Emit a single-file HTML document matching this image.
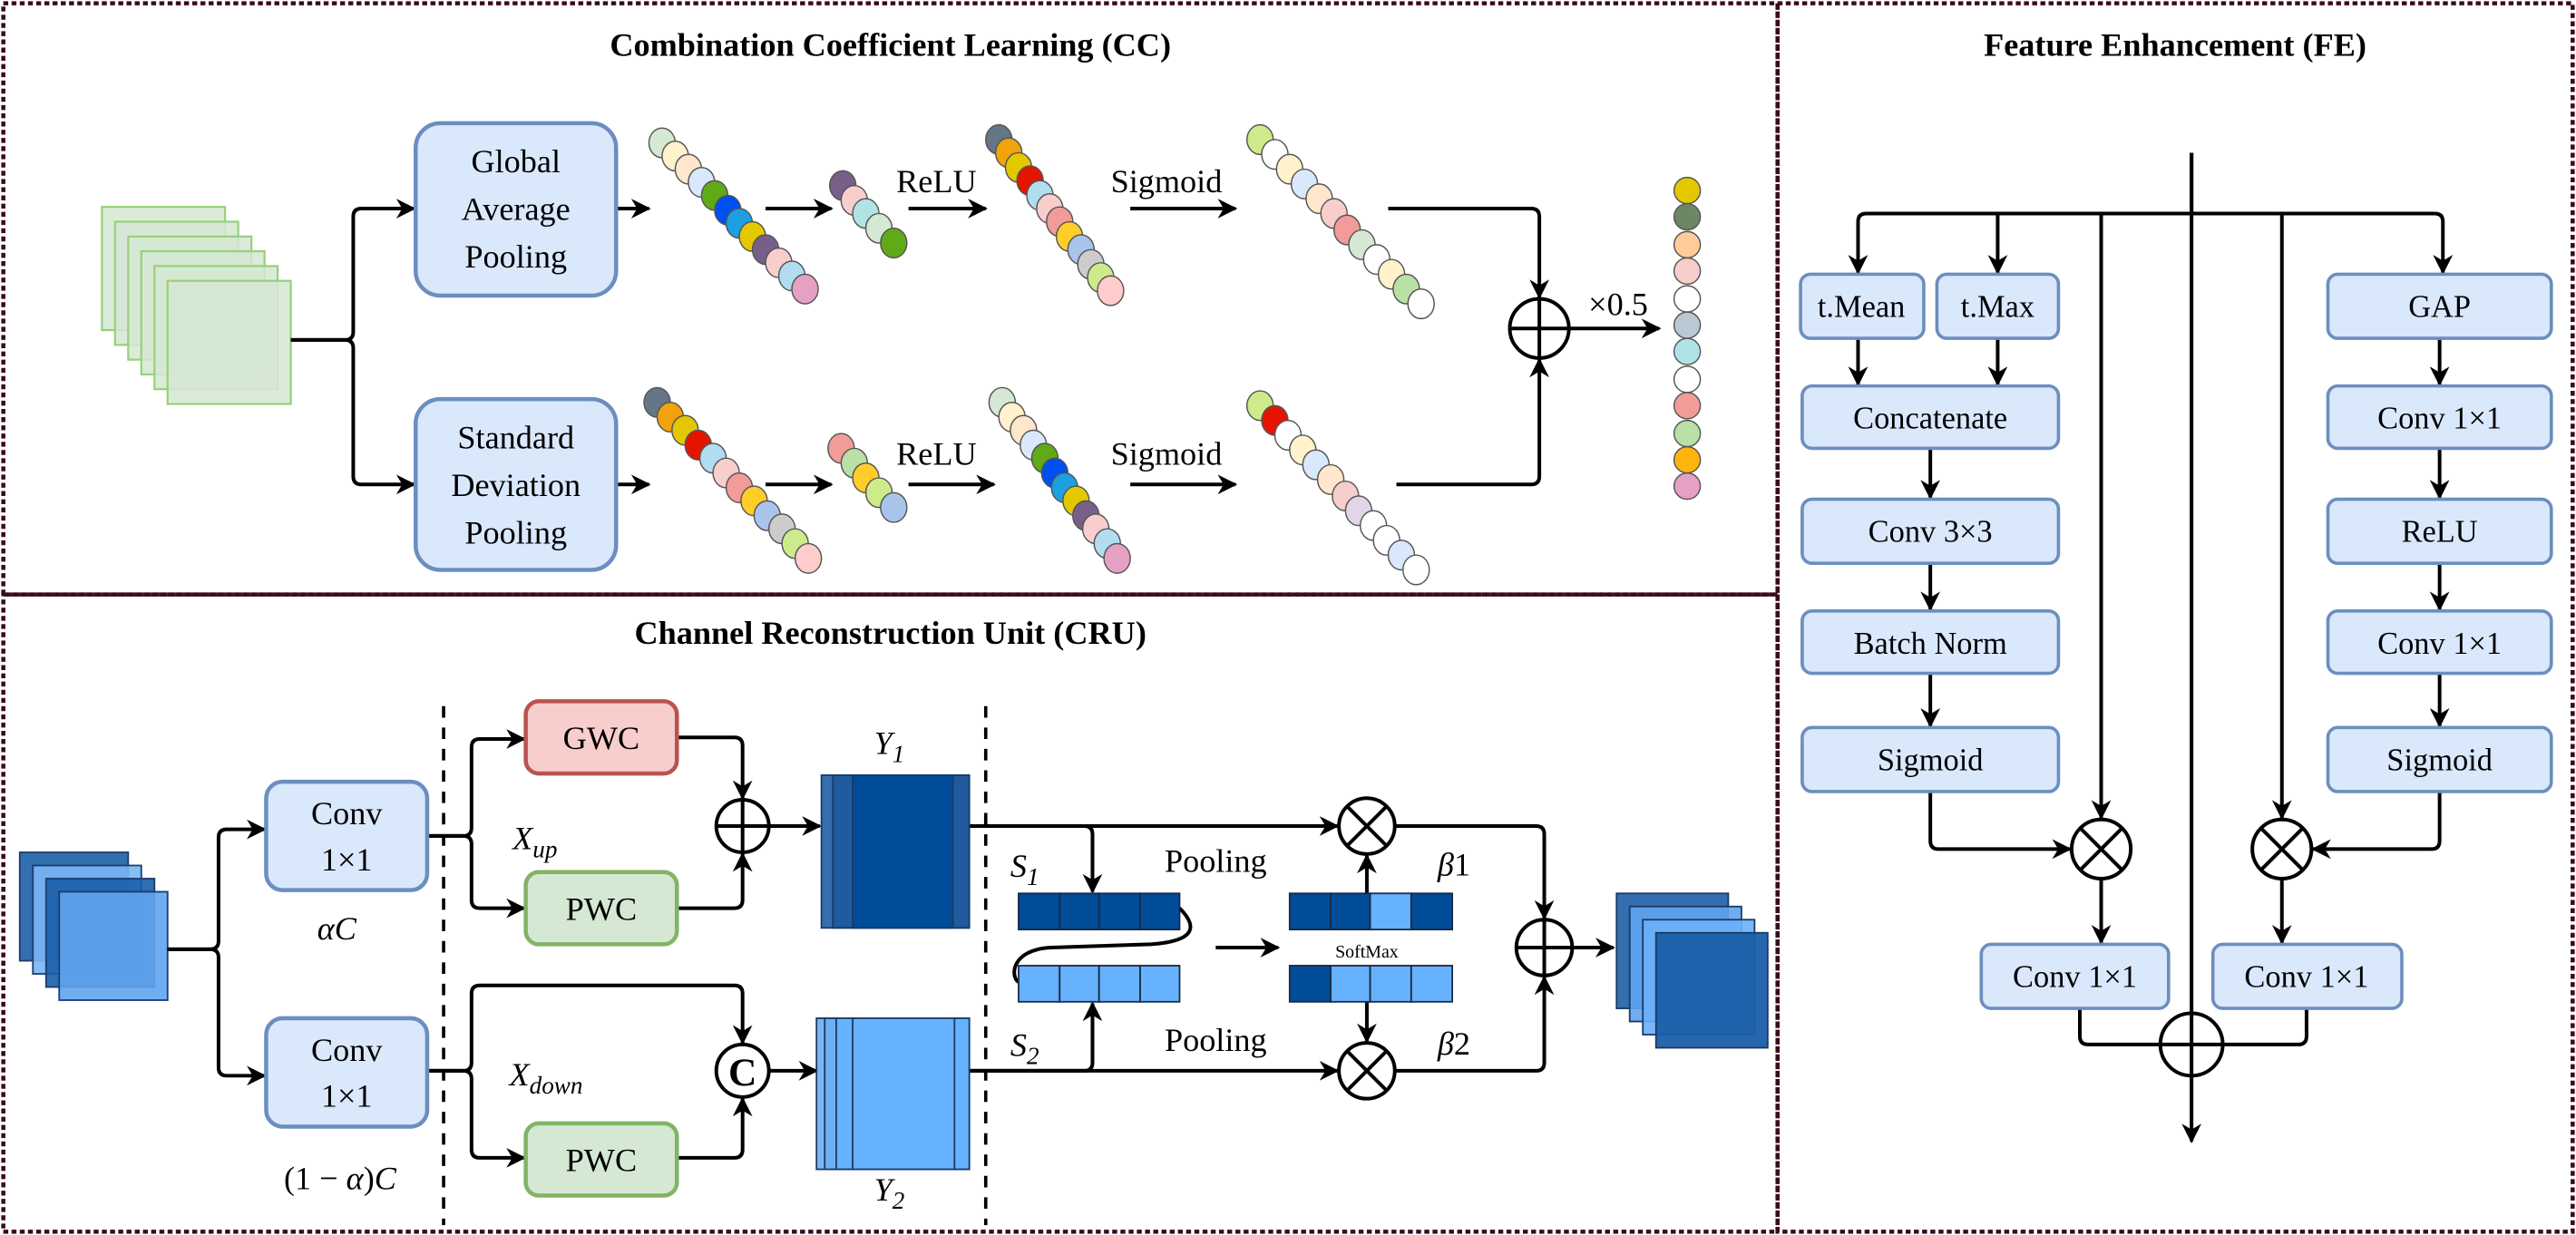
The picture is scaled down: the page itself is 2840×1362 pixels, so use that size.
<!DOCTYPE html>
<html><head><meta charset="utf-8"><style>
html,body{margin:0;padding:0;background:#fff;}
svg{display:block;font-family:"Liberation Serif","DejaVu Serif",serif;}
svg text{font-family:"Liberation Serif","DejaVu Serif",serif;fill:#000;}
</style></head><body>
<svg width="2840" height="1362" viewBox="0 0 1568 752" xmlns="http://www.w3.org/2000/svg" font-family="Liberation Serif, serif">
<defs>
<marker id="a" viewBox="0 0 10 10" refX="9" refY="5" markerWidth="12" markerHeight="12" markerUnits="userSpaceOnUse" orient="auto"><path d="M0,0 L10,5 L0,10 L3,5 z" fill="#000"/></marker>
</defs>
<g fill="none" stroke="#3a0a20" stroke-width="2.5" stroke-dasharray="3,2">
<rect x="2" y="2" width="1080" height="360"/>
<rect x="2" y="362" width="1080" height="388"/>
<rect x="1082" y="2" width="484" height="748"/>
</g>
<g font-weight="bold" font-size="20" text-anchor="middle">
<text x="542" y="34">Combination Coefficient Learning (CC)</text>
<text x="542" y="392">Channel Reconstruction Unit (CRU)</text>
<text x="1324" y="34">Feature Enhancement (FE)</text>
</g>
<!-- CC -->
<g fill="#d5e8d4" fill-opacity="0.85" stroke="#97d077" stroke-width="1.2">
<rect x="62" y="126" width="75" height="75"/><rect x="70" y="135" width="75" height="75"/><rect x="78" y="144" width="75" height="75"/><rect x="86" y="153" width="75" height="75"/><rect x="94" y="162" width="75" height="75"/><rect x="102" y="171" width="75" height="75"/>
</g>
<g fill="none" stroke="#000" stroke-width="2.2" marker-end="url(#a)">
<path d="M177,207 H210 Q215,207 215,202 V132 Q215,127 220,127 H252"/>
<path d="M177,207 H210 Q215,207 215,212 V290 Q215,295 220,295 H252"/>
<path d="M376,127 H395"/><path d="M466,127 H506"/><path d="M553,127 H600"/><path d="M688,127 H752"/>
<path d="M376,295 H395"/><path d="M466,295 H506"/><path d="M553,295 H605"/><path d="M688,295 H752"/>
<path d="M845,127 H932 Q937,127 937,132 V181"/>
<path d="M850,295 H932 Q937,295 937,290 V219"/>
<path d="M955,200 H1010"/>
</g>
<g fill="#dae8fc" stroke="#6c8ebf" stroke-width="2.5">
<rect x="253" y="75" width="122" height="105" rx="15"/>
<rect x="253" y="243" width="122" height="104" rx="15"/>
</g>
<g font-size="20" text-anchor="middle">
<text x="314" y="105">Global</text><text x="314" y="134">Average</text><text x="314" y="163">Pooling</text>
<text x="314" y="273">Standard</text><text x="314" y="302">Deviation</text><text x="314" y="331">Pooling</text>
<text x="570" y="117">ReLU</text><text x="570" y="283">ReLU</text>
<text x="710" y="117">Sigmoid</text><text x="710" y="283">Sigmoid</text>
<text x="985" y="192">×0.5</text>
</g>
<g fill="none" stroke="#000" stroke-width="2.2"><circle cx="937" cy="200" r="18"/><path d="M919,200 H955 M937,182 V218"/></g>
<g stroke="#555" stroke-width="0.8">
<ellipse cx="403" cy="87" rx="8" ry="9" fill="#d5e8d4"/><ellipse cx="411" cy="95" rx="8" ry="9" fill="#fff2cc"/><ellipse cx="419" cy="103" rx="8" ry="9" fill="#ffe6cc"/><ellipse cx="427" cy="111" rx="8" ry="9" fill="#dae8fc"/><ellipse cx="435" cy="119" rx="8" ry="9" fill="#60a917"/><ellipse cx="443" cy="128" rx="8" ry="9" fill="#0050ef"/><ellipse cx="450" cy="136" rx="8" ry="9" fill="#1ba1e2"/><ellipse cx="458" cy="144" rx="8" ry="9" fill="#e3c800"/><ellipse cx="466" cy="152" rx="8" ry="9" fill="#76608a"/><ellipse cx="474" cy="160" rx="8" ry="9" fill="#f8cecc"/><ellipse cx="482" cy="168" rx="8" ry="9" fill="#b1ddf0"/><ellipse cx="490" cy="176" rx="8" ry="9" fill="#e6a0c4"/>
<ellipse cx="513" cy="113" rx="8" ry="9" fill="#76608a"/><ellipse cx="520" cy="122" rx="8" ry="9" fill="#f8cecc"/><ellipse cx="527" cy="130" rx="8" ry="9" fill="#b0e3e6"/><ellipse cx="535" cy="139" rx="8" ry="9" fill="#d5e8d4"/><ellipse cx="544" cy="148" rx="8" ry="9" fill="#60a917"/>
<ellipse cx="608" cy="85" rx="8" ry="9" fill="#647687"/><ellipse cx="614" cy="93" rx="8" ry="9" fill="#f0a30a"/><ellipse cx="620" cy="102" rx="8" ry="9" fill="#e3c800"/><ellipse cx="627" cy="110" rx="8" ry="9" fill="#e51400"/><ellipse cx="633" cy="119" rx="8" ry="9" fill="#b1ddf0"/><ellipse cx="639" cy="127" rx="8" ry="9" fill="#f8cecc"/><ellipse cx="645" cy="135" rx="8" ry="9" fill="#f19c99"/><ellipse cx="651" cy="144" rx="8" ry="9" fill="#ffcd28"/><ellipse cx="658" cy="152" rx="8" ry="9" fill="#a9c4eb"/><ellipse cx="664" cy="161" rx="8" ry="9" fill="#cccccc"/><ellipse cx="670" cy="169" rx="8" ry="9" fill="#cdeb8b"/><ellipse cx="676" cy="177" rx="8" ry="9" fill="#ffcccc"/>
<ellipse cx="767" cy="85" rx="8" ry="9" fill="#cdeb8b"/><ellipse cx="776" cy="94" rx="8" ry="9" fill="#fff"/><ellipse cx="785" cy="103" rx="8" ry="9" fill="#fff2cc"/><ellipse cx="794" cy="112" rx="8" ry="9" fill="#dae8fc"/><ellipse cx="803" cy="121" rx="8" ry="9" fill="#ffe6cc"/><ellipse cx="812" cy="130" rx="8" ry="9" fill="#f8cecc"/><ellipse cx="820" cy="140" rx="8" ry="9" fill="#f19c99"/><ellipse cx="829" cy="149" rx="8" ry="9" fill="#d5e8d4"/><ellipse cx="838" cy="158" rx="8" ry="9" fill="#fff"/><ellipse cx="847" cy="167" rx="8" ry="9" fill="#fff2cc"/><ellipse cx="856" cy="176" rx="8" ry="9" fill="#b9e0a5"/><ellipse cx="865" cy="185" rx="8" ry="9" fill="#fff"/>
<ellipse cx="400" cy="245" rx="8" ry="9" fill="#647687"/><ellipse cx="408" cy="254" rx="8" ry="9" fill="#f0a30a"/><ellipse cx="417" cy="262" rx="8" ry="9" fill="#e3c800"/><ellipse cx="425" cy="271" rx="8" ry="9" fill="#e51400"/><ellipse cx="434" cy="279" rx="8" ry="9" fill="#b1ddf0"/><ellipse cx="442" cy="288" rx="8" ry="9" fill="#f8cecc"/><ellipse cx="450" cy="297" rx="8" ry="9" fill="#f19c99"/><ellipse cx="459" cy="305" rx="8" ry="9" fill="#ffcd28"/><ellipse cx="467" cy="314" rx="8" ry="9" fill="#a9c4eb"/><ellipse cx="476" cy="322" rx="8" ry="9" fill="#cccccc"/><ellipse cx="484" cy="331" rx="8" ry="9" fill="#cdeb8b"/><ellipse cx="492" cy="340" rx="8" ry="9" fill="#ffcccc"/>
<ellipse cx="512" cy="273" rx="8" ry="9" fill="#f19c99"/><ellipse cx="520" cy="282" rx="8" ry="9" fill="#b9e0a5"/><ellipse cx="527" cy="291" rx="8" ry="9" fill="#ffcd28"/><ellipse cx="535" cy="300" rx="8" ry="9" fill="#cdeb8b"/><ellipse cx="544" cy="309" rx="8" ry="9" fill="#a9c4eb"/>
<ellipse cx="610" cy="245" rx="8" ry="9" fill="#d5e8d4"/><ellipse cx="616" cy="254" rx="8" ry="9" fill="#fff2cc"/><ellipse cx="623" cy="262" rx="8" ry="9" fill="#ffe6cc"/><ellipse cx="629" cy="271" rx="8" ry="9" fill="#dae8fc"/><ellipse cx="636" cy="279" rx="8" ry="9" fill="#60a917"/><ellipse cx="642" cy="288" rx="8" ry="9" fill="#0050ef"/><ellipse cx="648" cy="297" rx="8" ry="9" fill="#1ba1e2"/><ellipse cx="655" cy="305" rx="8" ry="9" fill="#e3c800"/><ellipse cx="661" cy="314" rx="8" ry="9" fill="#76608a"/><ellipse cx="667" cy="322" rx="8" ry="9" fill="#f8cecc"/><ellipse cx="674" cy="331" rx="8" ry="9" fill="#b1ddf0"/><ellipse cx="680" cy="340" rx="8" ry="9" fill="#e6a0c4"/>
<ellipse cx="767" cy="247" rx="8" ry="9" fill="#cdeb8b"/><ellipse cx="776" cy="256" rx="8" ry="9" fill="#e51400"/><ellipse cx="784" cy="265" rx="8" ry="9" fill="#fff"/><ellipse cx="793" cy="274" rx="8" ry="9" fill="#fff2cc"/><ellipse cx="801" cy="283" rx="8" ry="9" fill="#dae8fc"/><ellipse cx="810" cy="292" rx="8" ry="9" fill="#ffe6cc"/><ellipse cx="819" cy="302" rx="8" ry="9" fill="#f8cecc"/><ellipse cx="827" cy="311" rx="8" ry="9" fill="#e1d5e7"/><ellipse cx="836" cy="320" rx="8" ry="9" fill="#fff"/><ellipse cx="844" cy="329" rx="8" ry="9" fill="#fff"/><ellipse cx="853" cy="338" rx="8" ry="9" fill="#dae8fc"/><ellipse cx="862" cy="347" rx="8" ry="9" fill="#fff"/>
<ellipse cx="1027" cy="116" rx="8" ry="8" fill="#e3c800"/><ellipse cx="1027" cy="132" rx="8" ry="8" fill="#6d8764"/><ellipse cx="1027" cy="149" rx="8" ry="8" fill="#ffcc99"/><ellipse cx="1027" cy="165" rx="8" ry="8" fill="#f8cecc"/><ellipse cx="1027" cy="182" rx="8" ry="8" fill="#fff"/><ellipse cx="1027" cy="198" rx="8" ry="8" fill="#bac8d3"/><ellipse cx="1027" cy="214" rx="8" ry="8" fill="#b0e3e6"/><ellipse cx="1027" cy="231" rx="8" ry="8" fill="#fff"/><ellipse cx="1027" cy="247" rx="8" ry="8" fill="#f19c99"/><ellipse cx="1027" cy="264" rx="8" ry="8" fill="#b9e0a5"/><ellipse cx="1027" cy="280" rx="8" ry="8" fill="#ffb30f"/><ellipse cx="1027" cy="296" rx="8" ry="8" fill="#e6a0c4"/>
</g>
<!-- CRU -->
<g stroke="#1a3e6e" stroke-width="1">
<rect x="12" y="519" width="66" height="66" fill="#336fae"/><rect x="20" y="527" width="66" height="66" fill="#7ab6f5" fill-opacity="0.9"/><rect x="28" y="535" width="66" height="66" fill="#1a5ea8" fill-opacity="0.9"/><rect x="36" y="543" width="66" height="66" fill="#5fa4ee" fill-opacity="0.9"/>
</g>
<g fill="none" stroke="#000" stroke-width="2" stroke-dasharray="7,6"><path d="M270,430 V746"/><path d="M600,430 V746"/></g>
<g fill="none" stroke="#000" stroke-width="2.2" marker-end="url(#a)">
<path d="M102,578 H128 Q133,578 133,573 V510 Q133,505 138,505 H161"/>
<path d="M102,578 H128 Q133,578 133,583 V650 Q133,655 138,655 H161"/>
<path d="M261,509 H282 Q287,509 287,504 V455 Q287,450 292,450 H319"/>
<path d="M261,509 H282 Q287,509 287,514 V548 Q287,553 292,553 H319"/>
<path d="M413,449 H447 Q452,449 452,454 V486"/>
<path d="M413,553 H447 Q452,553 452,548 V520"/>
<path d="M469,503 H499"/>
<path d="M261,652 H282 Q287,652 287,647 V605 Q287,600 292,600 H447 Q452,600 452,605 V635"/>
<path d="M261,652 H282 Q287,652 287,657 V700 Q287,705 292,705 H319"/>
<path d="M413,705 H447 Q452,705 452,700 V669"/>
<path d="M469,652 H497"/>
<path d="M590,503 H814"/>
<path d="M590,652 H814"/>
<path d="M590,503 H660 Q665,503 665,508 V543"/>
<path d="M590,652 H660 Q665,652 665,647 V611"/>
<path d="M740,577 H778"/>
<path d="M832,544 V521"/>
<path d="M832,610 V634"/>
<path d="M849,503 H935 Q940,503 940,508 V559"/>
<path d="M849,652 H935 Q940,652 940,647 V595"/>
<path d="M958,577 H982"/>
</g>
<g fill="#dae8fc" stroke="#6c8ebf" stroke-width="2.5">
<rect x="162" y="476" width="98" height="66" rx="10"/><rect x="162" y="620" width="98" height="66" rx="10"/>
</g>
<rect x="320" y="427" width="92" height="44" rx="8" fill="#f8cecc" stroke="#b85450" stroke-width="2.5"/>
<rect x="320" y="531" width="92" height="44" rx="8" fill="#d5e8d4" stroke="#82b366" stroke-width="2.5"/>
<rect x="320" y="684" width="92" height="44" rx="8" fill="#d5e8d4" stroke="#82b366" stroke-width="2.5"/>
<g font-size="20" text-anchor="middle">
<text x="211" y="502">Conv</text><text x="211" y="530">1×1</text>
<text x="211" y="646">Conv</text><text x="211" y="674">1×1</text>
<text x="366" y="456">GWC</text><text x="366" y="560">PWC</text><text x="366" y="713">PWC</text>
<text x="205" y="572" font-style="italic">αC</text>
<text x="207" y="724">(1 − <tspan font-style="italic">α</tspan>)<tspan font-style="italic">C</tspan></text>
<text x="740" y="531">Pooling</text><text x="740" y="640">Pooling</text>
<text x="885" y="533" font-style="italic">β<tspan font-style="normal">1</tspan></text>
<text x="885" y="642" font-style="italic">β<tspan font-style="normal">2</tspan></text>
</g>
<g font-size="20" font-style="italic">
<text x="312" y="517">X<tspan font-size="15" dy="5">up</tspan></text>
<text x="310" y="661">X<tspan font-size="15" dy="5">down</tspan></text>
<text x="532" y="459">Y<tspan font-size="15" dy="5">1</tspan></text>
<text x="532" y="731">Y<tspan font-size="15" dy="5">2</tspan></text>
<text x="615" y="534">S<tspan font-size="15" dy="5">1</tspan></text>
<text x="615" y="643">S<tspan font-size="15" dy="5">2</tspan></text>
</g>
<text x="832" y="583" font-size="11" text-anchor="middle">SoftMax</text>
<g fill="none" stroke="#000" stroke-width="2.2">
<circle cx="452" cy="503" r="16"/><path d="M436,503 H468 M452,487 V519"/>
<circle cx="452" cy="652" r="16"/>
<circle cx="832" cy="503" r="17"/><path d="M820,491 L844,515 M844,491 L820,515"/>
<circle cx="832" cy="652" r="17"/><path d="M820,640 L844,664 M844,640 L820,664"/>
<circle cx="940" cy="577" r="17"/><path d="M923,577 H957 M940,560 V594"/>
<path d="M718,553 C728,563 730,573 700,575 L640,577 C615,578 615,595 620,598"/>
</g>
<text x="452" y="661" font-size="24" font-weight="bold" text-anchor="middle">C</text>
<g stroke="#1a3a66" stroke-width="1">
<rect x="500" y="472" width="90" height="93" fill="#336fae"/><rect x="507" y="472" width="83" height="93" fill="#1f5b9e"/><rect x="519" y="472" width="61" height="93" fill="#004c99"/>
<rect x="497" y="620" width="93" height="92" fill="#7ab6f5"/><rect x="502" y="620" width="88" height="92" fill="#6fb0f5"/><rect x="509" y="620" width="81" height="92" fill="#66b2ff"/><rect x="519" y="620" width="62" height="92" fill="#66b2ff"/>
</g>
<g stroke="#1a2a44" stroke-width="1">
<rect x="620" y="544" width="25" height="22" fill="#004c99"/><rect x="645" y="544" width="24" height="22" fill="#004c99"/><rect x="669" y="544" width="25" height="22" fill="#004c99"/><rect x="694" y="544" width="24" height="22" fill="#004c99"/>
<rect x="620" y="588" width="25" height="22" fill="#66b2ff"/><rect x="645" y="588" width="24" height="22" fill="#66b2ff"/><rect x="669" y="588" width="25" height="22" fill="#66b2ff"/><rect x="694" y="588" width="24" height="22" fill="#66b2ff"/>
<rect x="785" y="544" width="25" height="22" fill="#004c99"/><rect x="810" y="544" width="24" height="22" fill="#004c99"/><rect x="834" y="544" width="25" height="22" fill="#66b2ff"/><rect x="859" y="544" width="25" height="22" fill="#004c99"/>
<rect x="785" y="588" width="25" height="22" fill="#004c99"/><rect x="810" y="588" width="24" height="22" fill="#66b2ff"/><rect x="834" y="588" width="25" height="22" fill="#66b2ff"/><rect x="859" y="588" width="25" height="22" fill="#66b2ff"/>
</g>
<g stroke="#1a3a66" stroke-width="1">
<rect x="984" y="544" width="68" height="70" fill="#336fae"/><rect x="992" y="552" width="68" height="70" fill="#5fa4ee" fill-opacity="0.9"/><rect x="1000" y="560" width="68" height="70" fill="#6ab0f8" fill-opacity="0.9"/><rect x="1008" y="568" width="68" height="70" fill="#1a5ea8" fill-opacity="0.95"/>
</g>
<!-- FE -->
<g fill="none" stroke="#000" stroke-width="2.2">
<path d="M1334,93 V130"/>
<path d="M1136,130 H1482"/>
<path d="M1175,482 V512 Q1175,517 1180,517 H1260" marker-end="url(#a)"/>
<path d="M1485,482 V512 Q1485,517 1480,517 H1408" marker-end="url(#a)"/>
<path d="M1266,614 V631 Q1266,636 1271,636 H1314"/>
<path d="M1404,614 V631 Q1404,636 1399,636 H1354"/>
</g>
<g fill="none" stroke="#000" stroke-width="2.2" marker-end="url(#a)">
<path d="M1334,93 V695"/>
<path d="M1136,130 Q1131,130 1131,135 V166"/>
<path d="M1216,130 V166"/>
<path d="M1279,130 V498"/>
<path d="M1389,130 V498"/>
<path d="M1482,130 Q1487,130 1487,135 V166"/>
<path d="M1131,206 V234"/><path d="M1216,206 V234"/>
<path d="M1175,273 V303"/><path d="M1175,343 V371"/><path d="M1175,410 V442"/>
<path d="M1485,206 V234"/><path d="M1485,273 V303"/><path d="M1485,343 V371"/><path d="M1485,410 V442"/>
<path d="M1279,535 V574"/><path d="M1389,535 V574"/>
</g>
<g fill="#dae8fc" stroke="#6c8ebf" stroke-width="2">
<rect x="1096" y="167" width="75" height="39" rx="6"/><rect x="1179" y="167" width="74" height="39" rx="6"/>
<rect x="1097" y="235" width="156" height="38" rx="6"/><rect x="1097" y="304" width="156" height="39" rx="6"/>
<rect x="1097" y="372" width="156" height="38" rx="6"/><rect x="1097" y="443" width="156" height="39" rx="6"/>
<rect x="1417" y="167" width="136" height="39" rx="6"/><rect x="1417" y="235" width="136" height="38" rx="6"/>
<rect x="1417" y="304" width="136" height="39" rx="6"/><rect x="1417" y="372" width="136" height="38" rx="6"/>
<rect x="1417" y="443" width="136" height="39" rx="6"/>
<rect x="1206" y="575" width="114" height="39" rx="6"/><rect x="1347" y="575" width="115" height="39" rx="6"/>
</g>
<g font-size="19" text-anchor="middle">
<text x="1133" y="193">t.Mean</text><text x="1216" y="193">t.Max</text>
<text x="1175" y="261">Concatenate</text><text x="1175" y="330">Conv 3×3</text>
<text x="1175" y="398">Batch Norm</text><text x="1175" y="469">Sigmoid</text>
<text x="1485" y="193">GAP</text><text x="1485" y="261">Conv 1×1</text>
<text x="1485" y="330">ReLU</text><text x="1485" y="398">Conv 1×1</text>
<text x="1485" y="469">Sigmoid</text>
<text x="1263" y="601">Conv 1×1</text><text x="1404" y="601">Conv 1×1</text>
</g>
<g fill="#fff" stroke="#000" stroke-width="2.2">
<circle cx="1279" cy="517" r="18"/><circle cx="1389" cy="517" r="18"/><circle cx="1334" cy="636" r="19"/>
</g>
<g fill="none" stroke="#000" stroke-width="2.2">
<path d="M1266,504 L1292,530 M1292,504 L1266,530"/><path d="M1376,504 L1402,530 M1402,504 L1376,530"/>
<path d="M1315,636 H1353 M1334,617 V655"/>
</g>
</svg>
</body></html>
